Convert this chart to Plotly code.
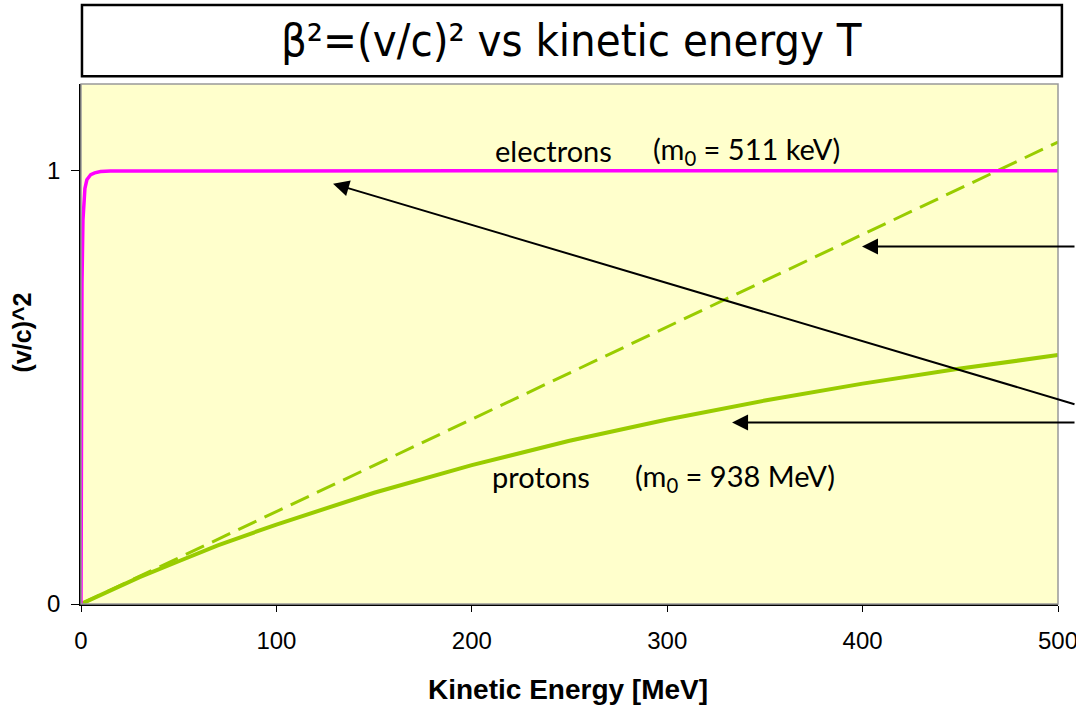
import plotly.graph_objects as go

# Kinetic energy samples [MeV] and beta^2
t_electron = [0, 0.1, 0.25, 0.5, 1, 2, 3, 5, 7, 10, 15, 100, 200, 300, 400, 500]
b2_electron = [0.0, 0.31, 0.55, 0.74, 0.886, 0.959, 0.979, 0.991, 0.995, 0.998, 0.999, 1.0, 1.0, 1.0, 1.0, 1.0]

t_proton = [0, 5, 10, 20, 30, 50, 70, 100, 150, 200, 250, 300, 350, 400, 450, 500]
b2_proton = [0.0, 0.0106, 0.0211, 0.0418, 0.0619, 0.0987, 0.1353, 0.1834, 0.2567, 0.3206, 0.3766, 0.4259, 0.4696, 0.5085, 0.5433, 0.5744]

t_classic = [0, 500]
b2_classic = [0.0, 1.066]

x_ticks = [0, 100, 200, 300, 400, 500]
y_ticks = [0, 1]

PINK = "#FF00FF"
GREEN = "#99CC00"
TXT = "Lato"
AX = "Liberation Sans, Arial"

fig = go.Figure()
fig.add_trace(go.Scatter(x=t_classic, y=b2_classic, mode="lines",
                         line=dict(color=GREEN, width=3, dash="20px,9px"), cliponaxis=False))
fig.add_trace(go.Scatter(x=t_proton, y=b2_proton, mode="lines",
                         line=dict(color=GREEN, width=4)))
fig.add_trace(go.Scatter(x=t_electron, y=b2_electron, mode="lines",
                         line=dict(color=PINK, width=3.5)))

fig.update_layout(
    width=1076, height=708,
    margin=dict(l=81, r=18, t=84, b=104),
    paper_bgcolor="white",
    plot_bgcolor="#FFFFCC",
    showlegend=False,
    xaxis=dict(range=[0, 500], tickvals=x_ticks, ticks="outside", ticklen=6,
               tickcolor="black", showline=True, linecolor="black", linewidth=1.5,
               showgrid=False, zeroline=False, automargin=False,
               ticklabeloverflow="allow", ticklabelstandoff=8,
               tickfont=dict(family=AX, size=24, color="black")),
    yaxis=dict(range=[0, 1.2], tickvals=y_ticks, ticks="outside", ticklen=8,
               tickcolor="black", showline=True, linecolor="black", linewidth=1.5,
               showgrid=False, zeroline=False, automargin=False,
               ticklabelstandoff=6,
               tickfont=dict(family=AX, size=24, color="black")),
)

# axis titles
fig.add_annotation(xref="paper", yref="paper", x=0.498, y=-0.165, xanchor="center", yanchor="middle",
                   showarrow=False, text="<b>Kinetic Energy [MeV]</b>",
                   font=dict(family=AX, size=28, color="black"))
fig.add_annotation(xref="paper", yref="paper", x=-0.06, y=0.523, xanchor="center", yanchor="middle",
                   showarrow=False, textangle=-90, text="<b>(v/c)^2</b>",
                   font=dict(family=AX, size=25, color="black"))

# plot area border (gray)
fig.add_shape(type="rect", xref="paper", yref="paper", x0=0, x1=1, y0=0, y1=1,
              line=dict(color="#999999", width=1.5), layer="above")
# title box
fig.add_shape(type="rect", xref="paper", yref="paper", x0=0.001, x1=1.004, y0=1.015, y1=1.152,
              line=dict(color="black", width=2.5), fillcolor="white")
fig.add_annotation(xref="paper", yref="paper", x=0.502, y=1.083, xanchor="center", yanchor="middle",
                   showarrow=False, text="β²=(v/c)² vs kinetic energy T",
                   font=dict(family="DejaVu Sans Condensed, DejaVu Sans", size=45, color="black"))

lab = dict(family=TXT, size=29, color="black")
fig.add_annotation(x=241.6, y=1.046, text="electrons", showarrow=False, font=lab)
fig.add_annotation(x=340.8, y=1.046, text="(m<sub>0</sub> = 511 keV)", showarrow=False, font=lab)
fig.add_annotation(x=235.4, y=0.295, text="protons", showarrow=False, font=lab)
fig.add_annotation(x=334.7, y=0.293, text="(m<sub>0</sub> = 938 MeV)", showarrow=False, font=lab)

arr = dict(showarrow=True, arrowhead=2, arrowsize=1.6, arrowwidth=2, arrowcolor="black",
           text="", standoff=0, axref="pixel", ayref="pixel")
fig.add_annotation(x=129, y=0.970, ax=767, ay=221, **arr)
fig.add_annotation(x=399.7, y=0.825, ax=240, ay=0, **arr)
fig.add_annotation(x=333.2, y=0.419, ax=370, ay=0, **arr)

fig.write_html("out.html", config={"displayModeBar": False},
               post_script="document.body.style.margin='0';document.body.style.overflow='hidden';")
